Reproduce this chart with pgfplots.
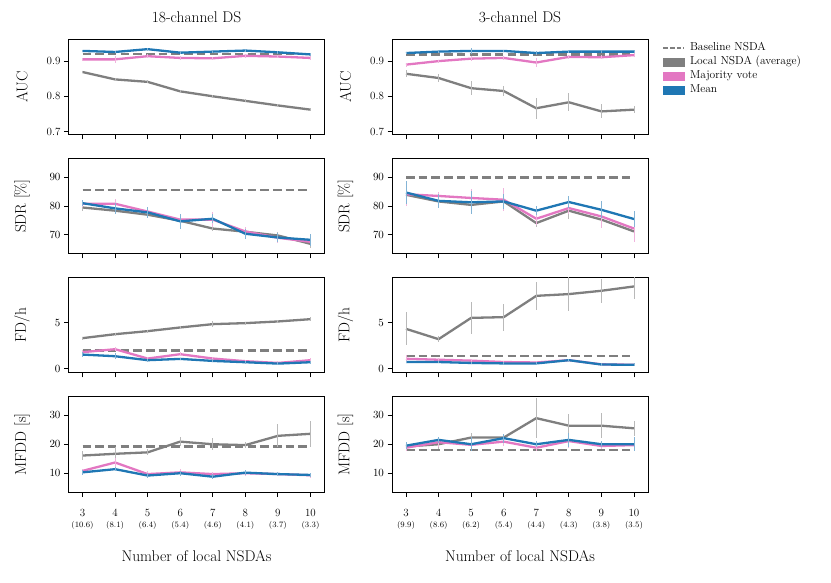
\documentclass[border=0pt]{standalone}
\usepackage{pgfplots}
\pgfplotsset{compat=1.18}
\definecolor{cgray}{HTML}{7F7F7F}
\definecolor{cpink}{HTML}{E377C2}
\definecolor{cblue}{HTML}{1F77B4}
\newcommand{\tl}[2]{#1\\[-1.5pt]{\fontsize{8.2}{8.5}\selectfont(#2)}}
\pgfplotsset{
 ser/.style={#1, line width=2.3pt, line join=round, error bars/.cd, y dir=both, y explicit, error mark=none, error bar style={line width=0.9pt, #1!55!white, solid}},
 base/.style={cgray, line width=2.3pt, dash pattern=on 8.5pt off 4.2pt},
 pan/.style={scale only axis, width=256pt, height=95.5pt, anchor=north west,
  xmin=2.57, xmax=10.43, xtick={3,...,10}, tick pos=left, tick align=outside,
  major tick length=4.5pt, axis line style={line width=0.9pt},
  every tick/.style={black, line width=0.9pt},
  tick label style={font=\fontsize{11}{12}\selectfont},
  ylabel style={font=\fontsize{15.5}{17}\selectfont, at={(axis description cs:-0.182,0.5)}, anchor=center},
  title style={font=\fontsize{15.5}{17}\selectfont, at={(0.5,1)}, anchor=center, yshift=16pt}},
 r1/.style={ymin=0.6905, ymax=0.962, ytick={0.7,0.8,0.9}, yticklabels={0.7,0.8,0.9}, ylabel={AUC}, xticklabel=\mbox{}},
 r2/.style={ymin=63.45, ymax=96.55, ytick={70,80,90}, ylabel={SDR [\%]}, xticklabel=\mbox{}},
 r3/.style={ymin=-0.43, ymax=9.93, ytick={0,5}, ylabel={FD/h}, xticklabel=\mbox{}},
 r4/.style={ymin=3.45, ymax=36.4, ytick={10,20,30}, ylabel={MFDD [s]},
  xticklabel style={align=center, yshift=-9pt},
  xlabel={Number of local NSDAs},
  xlabel style={font=\fontsize{15.5}{17}\selectfont, at={(axis description cs:0.5,0)}, anchor=center, yshift=-64pt}},
}
\begin{document}
\begin{tikzpicture}
\path[use as bounding box] (0pt,0pt) rectangle (831pt,-582pt);
% ---------------- Row 1 left
\begin{axis}[pan, r1, at={(68.5pt,-39.3pt)}, title={18-channel DS}]
\addplot[base] coordinates {(3,0.921) (10,0.921)};
\addplot[ser=cgray] coordinates {(3,0.869)+-(0,0.004) (4,0.848)+-(0,0.004) (5,0.841)+-(0,0.004) (6,0.814)+-(0,0.004) (7,0.800)+-(0,0.004) (8,0.787)+-(0,0.004) (9,0.774)+-(0,0.004) (10,0.762)+-(0,0.004)};
\addplot[ser=cpink] coordinates {(3,0.905)+-(0,0.005) (4,0.905)+-(0,0.009) (5,0.914)+-(0,0.005) (6,0.909)+-(0,0.005) (7,0.908)+-(0,0.005) (8,0.915)+-(0,0.006) (9,0.913)+-(0,0.005) (10,0.909)+-(0,0.005)};
\addplot[ser=cblue] coordinates {(3,0.929)+-(0,0.004) (4,0.926)+-(0,0.004) (5,0.934)+-(0,0.004) (6,0.924)+-(0,0.004) (7,0.927)+-(0,0.004) (8,0.930)+-(0,0.004) (9,0.925)+-(0,0.004) (10,0.919)+-(0,0.004)};
\end{axis}
% ---------------- Row 1 right
\begin{axis}[pan, r1, at={(392pt,-39.3pt)}, title={3-channel DS},
  legend style={at={(1.045,1.0)}, anchor=north west, draw=none, fill=none, font=\fontsize{11.5}{12}\selectfont, row sep=1.0pt, nodes={inner sep=1.5pt, inner xsep=5pt, text height=7.5pt, text depth=2.5pt}}, legend cell align=left]
\addlegendimage{legend image code/.code={\draw[cgray, line width=1.3pt, dash pattern=on 4.5pt off 2.2pt] (0pt,0pt) -- (21pt,0pt);}}
\addlegendentry{Baseline NSDA}
\addlegendimage{legend image code/.code={\fill[cgray] (0pt,-3.8pt) rectangle (21pt,3.8pt);}}
\addlegendentry{Local NSDA (average)}
\addlegendimage{legend image code/.code={\fill[cpink] (0pt,-3.8pt) rectangle (21pt,3.8pt);}}
\addlegendentry{Majority vote}
\addlegendimage{legend image code/.code={\fill[cblue] (0pt,-3.8pt) rectangle (21pt,3.8pt);}}
\addlegendentry{Mean}
\addplot[base] coordinates {(3,0.919) (10,0.919)};
\addplot[ser=cgray] coordinates {(3,0.864)+-(0,0.010) (4,0.852)+-(0,0.010) (5,0.823)+-(0,0.020) (6,0.815)+-(0,0.015) (7,0.766)+-(0,0.030) (8,0.783)+-(0,0.025) (9,0.757)+-(0,0.020) (10,0.762)+-(0,0.010)};
\addplot[ser=cpink] coordinates {(3,0.890)+-(0,0.006) (4,0.900)+-(0,0.004) (5,0.907)+-(0,0.008) (6,0.909)+-(0,0.005) (7,0.896)+-(0,0.012) (8,0.912)+-(0,0.006) (9,0.911)+-(0,0.005) (10,0.917)+-(0,0.005)};
\addplot[ser=cblue] coordinates {(3,0.923)+-(0,0.004) (4,0.927)+-(0,0.004) (5,0.929)+-(0,0.008) (6,0.929)+-(0,0.004) (7,0.923)+-(0,0.006) (8,0.927)+-(0,0.004) (9,0.927)+-(0,0.004) (10,0.927)+-(0,0.004)};
\end{axis}
% ---------------- Row 2 left
\begin{axis}[pan, r2, at={(68.5pt,-158.3pt)}]
\addplot[base] coordinates {(3,85.5) (10,85.5)};
\addplot[ser=cgray] coordinates {(3,79.5)+-(0,1.2) (4,78.4)+-(0,1.0) (5,77.0)+-(0,1.0) (6,74.9)+-(0,1.0) (7,72.2)+-(0,1.0) (8,71.1)+-(0,1.0) (9,69.8)+-(0,1.2) (10,66.9)+-(0,1.5)};
\addplot[ser=cpink] coordinates {(3,80.8)+-(0,1.0) (4,80.8)+-(0,1.8) (5,78.1)+-(0,1.2) (6,75.3)+-(0,1.5) (7,75.3)+-(0,2.5) (8,71.2)+-(0,1.5) (9,69.0)+-(0,1.8) (10,67.6)+-(0,1.5)};
\addplot[ser=cblue] coordinates {(3,81.0)+-(0,1.0) (4,79.2)+-(0,1.8) (5,77.8)+-(0,1.8) (6,74.7)+-(0,2.7) (7,75.6)+-(0,1.5) (8,70.4)+-(0,1.8) (9,69.1)+-(0,1.5) (10,68.3)+-(0,2.0)};
\end{axis}
% ---------------- Row 2 right
\begin{axis}[pan, r2, at={(392pt,-158.3pt)}]
\addplot[base] coordinates {(3,89.9) (10,89.9)};
\addplot[ser=cgray] coordinates {(3,83.9)+-(0,4) (4,81.6)+-(0,1.5) (5,80.4)+-(0,2) (6,81.6)+-(0,3) (7,74.1)+-(0,1.5) (8,78.4)+-(0,3) (9,75.3)+-(0,3) (10,71.2)+-(0,2)};
\addplot[ser=cpink] coordinates {(3,84.1)+-(0,4) (4,83.5)+-(0,1.5) (5,82.8)+-(0,3) (6,82.2)+-(0,4) (7,75.6)+-(0,2) (8,79.3)+-(0,2) (9,76.4)+-(0,4) (10,72.2)+-(0,4.8)};
\addplot[ser=cblue] coordinates {(3,84.7)+-(0,4) (4,81.8)+-(0,2.5) (5,81.3)+-(0,4) (6,81.6)+-(0,2.5) (7,78.4)+-(0,1.5) (8,81.4)+-(0,2) (9,78.7)+-(0,3) (10,75.5)+-(0,2.9)};
\end{axis}
% ---------------- Row 3 left
\begin{axis}[pan, r3, at={(68.5pt,-277.4pt)}]
\addplot[base] coordinates {(3,2.0) (10,2.0)};
\addplot[ser=cgray] coordinates {(3,3.34)+-(0,0.15) (4,3.77)+-(0,0.15) (5,4.1)+-(0,0.15) (6,4.5)+-(0,0.15) (7,4.86)+-(0,0.3) (8,4.97)+-(0,0.15) (9,5.15)+-(0,0.2) (10,5.4)+-(0,0.2)};
\addplot[ser=cpink] coordinates {(3,1.82)+-(0,0.2) (4,2.14)+-(0,0.2) (5,1.13)+-(0,0.15) (6,1.6)+-(0,0.2) (7,1.13)+-(0,0.15) (8,0.84)+-(0,0.15) (9,0.65)+-(0,0.25) (10,0.95)+-(0,0.25)};
\addplot[ser=cblue] coordinates {(3,1.56)+-(0,0.3) (4,1.38)+-(0,0.3) (5,0.95)+-(0,0.15) (6,1.09)+-(0,0.15) (7,0.87)+-(0,0.15) (8,0.73)+-(0,0.15) (9,0.58)+-(0,0.15) (10,0.73)+-(0,0.15)};
\end{axis}
% ---------------- Row 3 right
\begin{axis}[pan, r3, at={(392pt,-277.4pt)}]
\addplot[base] coordinates {(3,1.38) (10,1.38)};
\addplot[ser=cgray] coordinates {(3,4.35)+-(0,1.8) (4,3.23)+-(0,0.3) (5,5.54)+-(0,1.7) (6,5.62)+-(0,1.45) (7,7.93)+-(0,1.5) (8,8.12)+-(0,1.8) (9,8.48)+-(0,1.3) (10,8.95)+-(0,1.4)};
\addplot[ser=cpink] coordinates {(3,1.1)+-(0,0.45) (4,1.0)+-(0,0.15) (5,0.9)+-(0,0.15) (6,0.75)+-(0,0.15) (7,0.7)+-(0,0.15) (8,0.95)+-(0,0.15) (9,0.5)+-(0,0.15) (10,0.45)+-(0,0.15)};
\addplot[ser=cblue] coordinates {(3,0.76)+-(0,0.15) (4,0.75)+-(0,0.15) (5,0.65)+-(0,0.15) (6,0.6)+-(0,0.15) (7,0.6)+-(0,0.15) (8,0.95)+-(0,0.15) (9,0.48)+-(0,0.15) (10,0.45)+-(0,0.15)};
\end{axis}
% ---------------- Row 4 left
\begin{axis}[pan, r4, at={(68.5pt,-396.7pt)},
  xticklabels={{\tl{3}{10.6}},{\tl{4}{8.1}},{\tl{5}{6.4}},{\tl{6}{5.4}},{\tl{7}{4.6}},{\tl{8}{4.1}},{\tl{9}{3.7}},{\tl{10}{3.3}}}]
\addplot[base] coordinates {(3,19.2) (10,19.2)};
\addplot[ser=cgray] coordinates {(3,16.1)+-(0,1.5) (4,16.7)+-(0,2.2) (5,17.2)+-(0,1.0) (6,20.9)+-(0,1.5) (7,20.0)+-(0,2.0) (8,19.7)+-(0,1.0) (9,22.9)+-(0,4.0) (10,23.6)+-(0,4.5)};
\addplot[ser=cpink] coordinates {(3,10.8)+-(0,0.8) (4,13.7)+-(0,1.5) (5,9.7)+-(0,1.0) (6,10.3)+-(0,1.0) (7,9.7)+-(0,0.8) (8,10.0)+-(0,0.8) (9,9.7)+-(0,0.8) (10,9.3)+-(0,0.8)};
\addplot[ser=cblue] coordinates {(3,10.3)+-(0,0.8) (4,11.4)+-(0,0.8) (5,9.2)+-(0,0.8) (6,10.0)+-(0,0.8) (7,8.8)+-(0,0.8) (8,10.2)+-(0,0.8) (9,9.7)+-(0,0.8) (10,9.4)+-(0,0.8)};
\end{axis}
% ---------------- Row 4 right
\begin{axis}[pan, r4, at={(392pt,-396.7pt)},
  xticklabels={{\tl{3}{9.9}},{\tl{4}{8.6}},{\tl{5}{6.2}},{\tl{6}{5.4}},{\tl{7}{4.4}},{\tl{8}{4.3}},{\tl{9}{3.8}},{\tl{10}{3.5}}}]
\addplot[base] coordinates {(3,17.9) (10,17.9)};
\addplot[ser=cgray] coordinates {(3,19.2)+-(0,1) (4,20.0)+-(0,1.5) (5,22.3)+-(0,1.5) (6,22.3)+-(0,1) (7,29.0)+-(0,6.9) (8,26.4)+-(0,4) (9,26.4)+-(0,4.3) (10,25.5)+-(0,2.6)};
\addplot[ser=cpink] coordinates {(3,18.8)+-(0,1.2) (4,20.7)+-(0,1.5) (5,19.8)+-(0,1.5) (6,20.9)+-(0,1.5) (7,18.8)+-(0,1) (8,21.1)+-(0,2.5) (9,19.4)+-(0,1) (10,19.7)+-(0,1.5)};
\addplot[ser=cblue] coordinates {(3,19.5)+-(0,1.2) (4,21.5)+-(0,1) (5,20.0)+-(0,2.5) (6,22.1)+-(0,1.5) (7,20.0)+-(0,1) (8,21.5)+-(0,2.5) (9,20.0)+-(0,1) (10,20.0)+-(0,2.5)};
\end{axis}
\end{tikzpicture}
\end{document}
